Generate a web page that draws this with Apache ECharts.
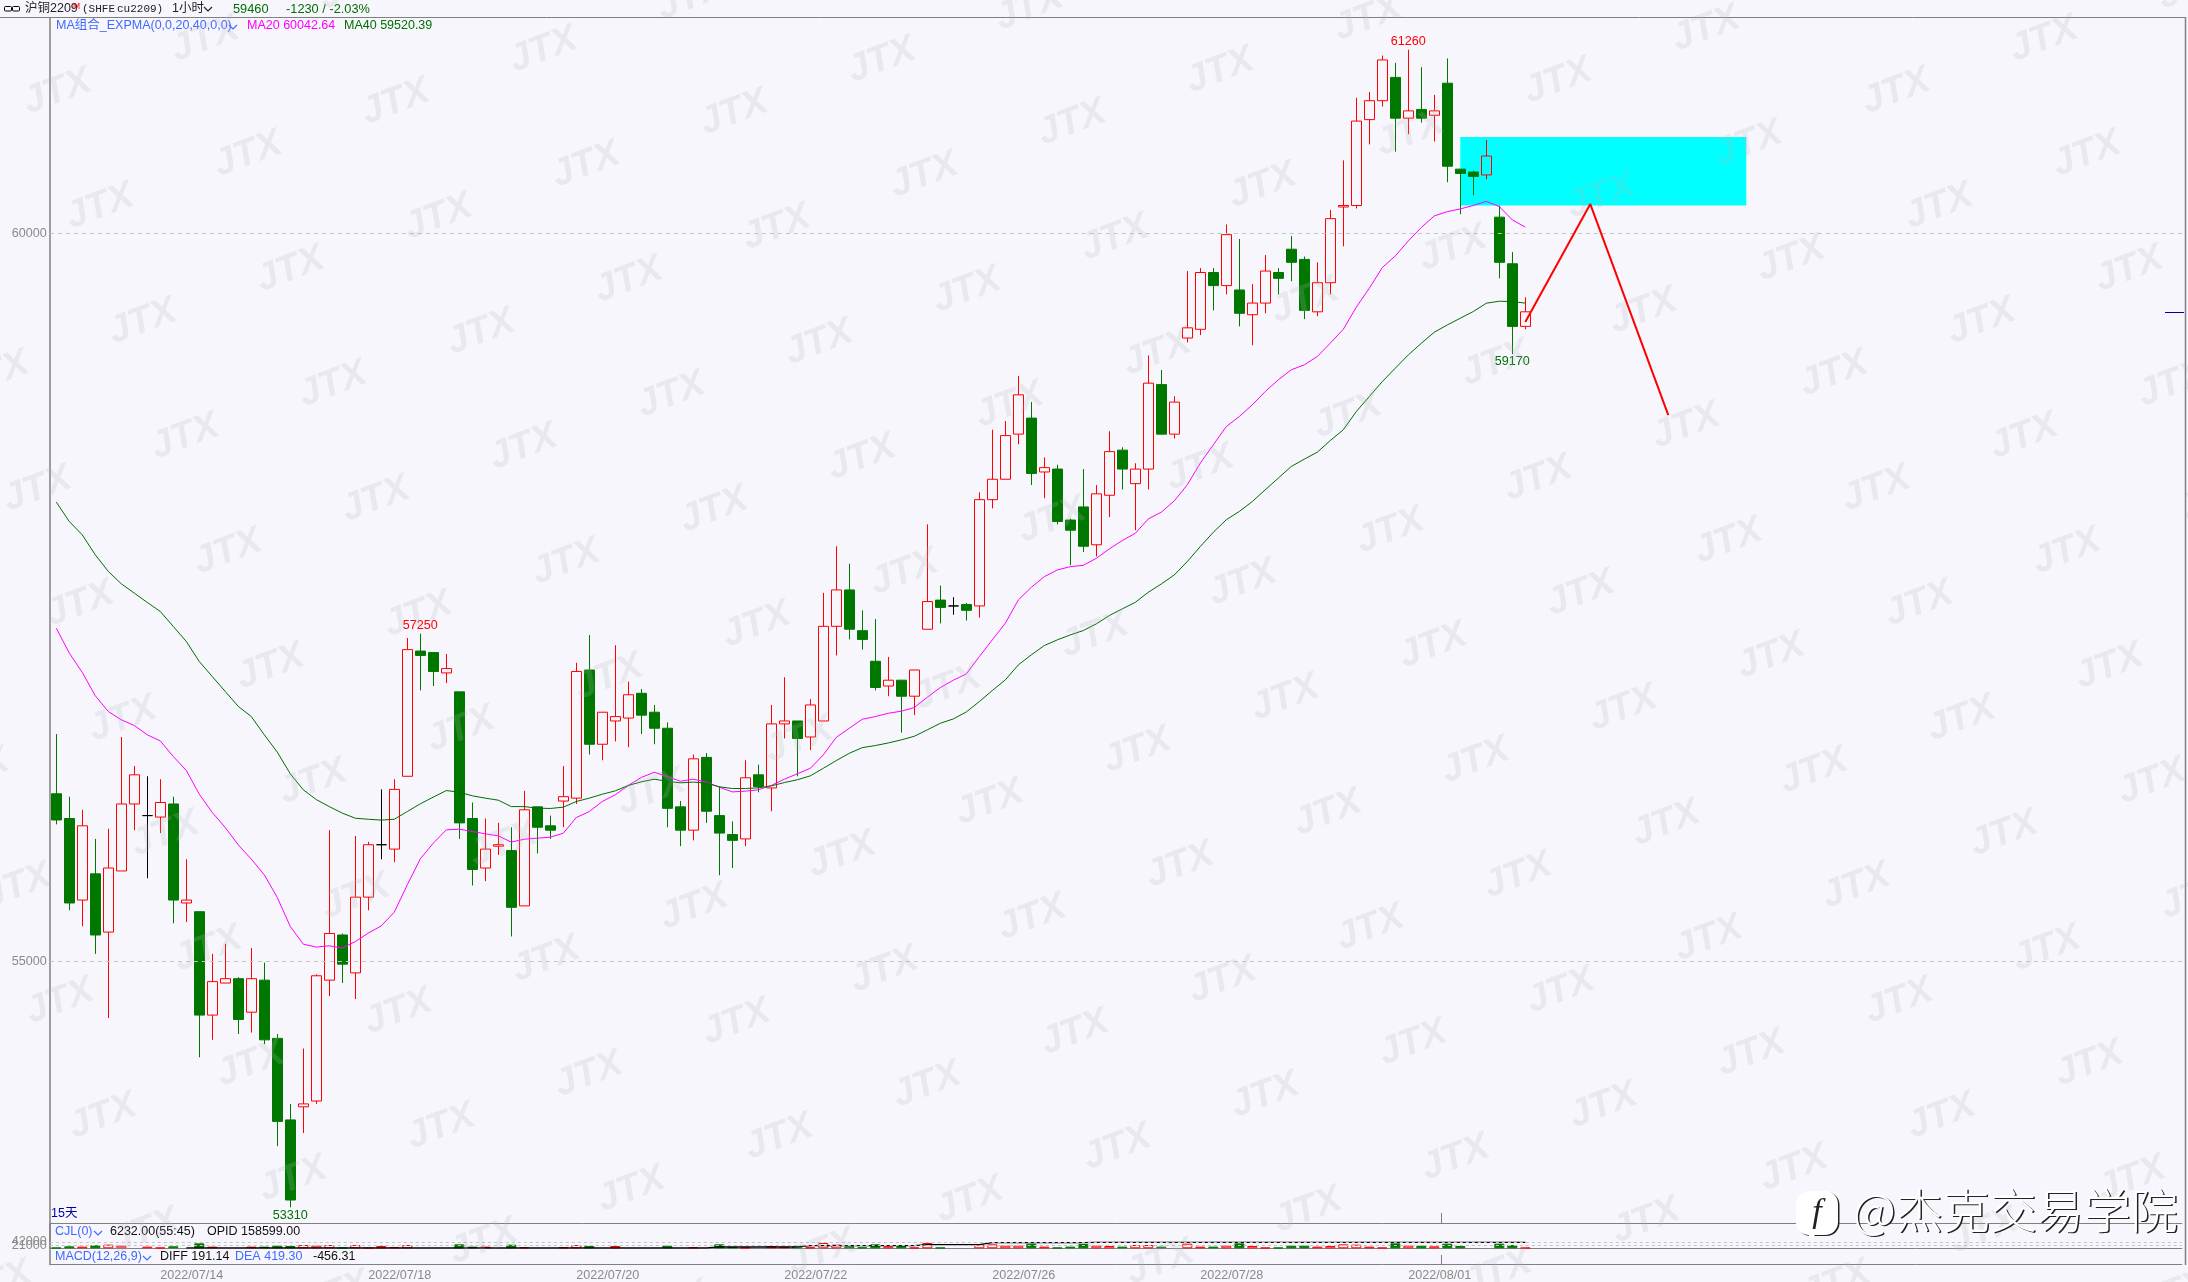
<!DOCTYPE html>
<html><head><meta charset="utf-8">
<style>html,body{margin:0;padding:0;background:#f6f6fc}#c{width:2188px;height:1282px}</style>
<script src="https://cdn.jsdelivr.net/npm/echarts@6/dist/echarts.min.js"></script>
</head><body><div id="c"></div>
<script>
const opens=[56150,55980,55420,55600,55200,55620,56080,56000,55990,56080,55400,55340,54630,54850,54880,54650,54870,54470,53910,54000,54040,54870,55180,54920,55440,55800,55770,56270,57130,57120,56980,56850,55980,55640,55790,55760,55380,56060,55930,56100,56120,57000,56490,56650,56670,56840,56710,56600,56060,55900,56400,56000,55870,55840,56280,56190,56630,56650,56540,56650,57300,57550,57270,57060,56890,56930,56820,57280,57480,57440,57450,57440,58170,58310,58620,58730,58360,58380,58030,58120,57860,58200,58510,58280,58380,58960,58620,59280,59340,59730,59640,59610,59440,59520,59730,59890,59820,59460,59660,60180,60190,60780,60910,61070,60790,60850,60810,61030,60440,60420,60400,60110,59790,59360];
const closes=[55970,55400,55930,55180,55640,56080,56280,56000,56090,55420,55420,54630,54860,54880,54600,54880,54460,53900,53360,54020,54900,55190,54980,55440,55800,55800,56180,57140,57100,56990,57010,55950,55630,55770,55800,55370,56040,55920,55900,56130,56990,56490,56710,56680,56830,56690,56600,56050,55900,56390,56030,55880,55830,56260,56200,56630,56650,56530,56760,57300,57550,57280,57210,56880,56930,56820,57000,57470,57430,57440,57410,58170,58310,58610,58890,58350,58390,58020,57960,57850,58210,58500,58380,58380,58970,58620,58840,59350,59730,59640,59990,59450,59520,59740,59690,59800,59470,59660,60100,60190,60770,60910,61190,60790,60840,60790,60840,60460,60410,60390,60530,59800,59360,59460];
const lows=[55940,55350,55240,55050,54610,55620,55900,55570,55880,55260,55270,54340,54460,54850,54500,54510,54430,53730,53310,53820,54020,54760,54850,54740,55350,55700,55680,56270,56860,56890,56910,55840,55520,55550,55730,55170,55380,55740,55840,55920,56080,56420,56380,56510,56470,56560,56490,55920,55790,55830,55950,55590,55640,55790,56160,56030,56530,56270,56450,56650,57100,57210,57140,56860,56820,56570,56690,57280,57320,57380,57340,57360,58110,58310,58550,58270,58180,58000,57720,57810,57780,58050,58240,57960,58240,58620,58590,59250,59300,59470,59580,59360,59230,59450,59580,59670,59410,59430,59580,59910,60170,60610,60870,60560,60680,60760,60630,60350,60130,60260,60370,59690,59170,59340];
const highs=[56560,56130,56040,55840,55910,56540,56340,56270,56250,56130,55700,55340,55050,55120,54890,55090,54990,54500,54020,54400,54910,55900,55190,55860,55820,56180,56250,57220,57250,57120,57110,56850,56090,55980,55950,55920,56170,56060,56000,56340,57050,57240,56710,57170,56920,56870,56760,56640,56100,56420,56430,56200,55960,56380,56350,56760,56950,56650,56800,57530,57850,57730,57410,57350,57090,56930,57000,58000,57580,57500,57460,58220,58650,58710,59020,58840,58460,58410,58040,58380,58270,58640,58530,58420,59160,59060,58880,59740,59760,59760,60060,59960,59650,59850,59760,59980,59840,59800,60160,60500,60930,60970,61220,61170,61260,61140,60950,61200,60440,60430,60640,60190,59870,59560];
const ma20=[57287,57116,56983,56823,56715,56658,56619,56555,56513,56406,56310,56147,56021,55918,55799,55701,55593,55438,55238,55117,55097,55106,55090,55135,55193,55243,55337,55525,55703,55811,55902,55907,55891,55875,55861,55818,55838,55845,55852,55879,55987,56028,56097,56143,56207,56262,56298,56268,56236,56250,56230,56195,56163,56168,56177,56207,56250,56287,56325,56417,56538,56600,56662,56680,56703,56717,56742,56813,56879,56930,56973,57092,57207,57321,57481,57568,57641,57687,57710,57719,57767,57832,57889,57939,58038,58084,58162,58272,58421,58547,58672,58741,58821,58913,58993,59062,59096,59153,59245,59340,59492,59622,59764,59844,59947,60039,60119,60148,60167,60190,60219,60183,60091,60042];
const ma40=[58153,58020,57928,57791,57677,57592,57528,57464,57402,57299,57196,57058,56955,56852,56750,56680,56555,56436,56287,56177,56110,56062,56017,55982,55975,55969,55975,56028,56081,56127,56172,56161,56136,56120,56106,56062,56062,56051,56049,56058,56097,56120,56147,56170,56207,56232,56250,56236,56225,56230,56223,56198,56186,56186,56191,56204,56227,56246,56273,56325,56378,56428,56467,56481,56499,56520,56545,56589,56634,56664,56712,56783,56859,56932,57035,57104,57168,57207,57241,57271,57317,57374,57420,57465,57534,57591,57653,57745,57848,57946,58032,58089,58157,58238,58318,58398,58448,58496,58576,58650,58775,58878,58981,59073,59164,59244,59320,59370,59416,59462,59519,59533,59530,59520];
const volumes=[4400,13200,11000,19800,24200,17600,0,11000,4400,13200,0,33000,11000,0,0,11000,11000,17600,15400,22000,17600,22000,2200,22000,2200,15400,8800,22000,0,0,0,26400,11000,11000,0,24200,6600,0,0,6600,22000,15400,0,15400,0,0,0,17600,0,6600,0,26400,8800,4400,0,15400,11000,15400,6600,35200,24200,13200,6600,26400,13200,15400,4400,35200,4400,0,0,26400,26400,17600,17600,30800,11000,4400,11000,28600,17600,15400,11000,22000,22000,11000,0,30800,11000,11000,17600,33000,15400,4400,4400,17600,17600,11000,15400,26400,24200,11000,4400,33000,17600,17600,13200,30800,15400,0,0,30800,22000,4400];
const openInterest=[null,null,null,null,null,null,null,null,null,null,8800,8800,8800,8800,8800,8800,8800,8800,8800,8800,8800,8800,8800,8800,8800,8800,8800,8800,8800,8800,8800,8800,8800,8800,8800,8800,8800,8800,8800,8800,8800,8800,8800,8800,8800,8800,8800,8800,8800,8800,8800,35000,35000,35000,35000,35000,35000,35000,70000,70000,70000,70000,70000,70000,70000,70000,70000,97000,97000,97000,97000,97000,150000,150000,150000,150000,150000,150000,150000,150000,158600,158600,158600,158600,158600,158600,158600,158600,158600,158600,158600,158600,158600,158600,158600,158600,158600,158600,158600,158600,158600,158600,158600,158600,158600,158600,158600,158600,158600,158600,158600,158600,158600,158600];
const dateTicks=[8,24,40,56,72,88,104];
const dateLabels=['2022/07/14','2022/07/18','2022/07/20','2022/07/22','2022/07/26','2022/07/28','2022/08/01'];
const slotCount=164;
const trendIdx=[113,118,124];
const trendVal=[59390,60200,58750];
const zoneIdx=[108,130];
const zoneVal=[60190,60660];
const priceTicks=[55000,60000];
const volTicks=[21000,42000];
const extremes=[[104,61260,'top','#ff0000'],[28,57250,'top','#ff0000'],[112,59170,'bottom','#007000'],[18,53310,'bottom','#007000']];

const RED='#ff0000',GREEN='#007800',GRAY='#808080',LBL='#8a8a8a',BLUE='#4169ff';
const FONT='"Liberation Sans","Noto Sans CJK SC",sans-serif';
const categories=Array.from({length:slotCount},(_,i)=>{const k=dateTicks.indexOf(i);return k>=0?dateLabels[k]:''});
const candle=opens.map((o,i)=>[o,closes[i],lows[i],highs[i]]);
const volData=volumes.map((v,i)=>{
  if(!v)return null;
  const up=closes[i]>=opens[i];
  return {value:v,itemStyle:up?{color:'rgba(0,0,0,0)',borderColor:RED,borderWidth:1}:{color:GREEN,borderColor:GREEN,borderWidth:1}};
});
const T=(text,x,y,fill,size,extra)=>({type:'text',z:50,silent:true,style:Object.assign({text,x,y,fill,font:(size||12.5)+'px '+FONT,textVerticalAlign:'middle'},extra||{})});
const chev=(x,y,c)=>({type:'polyline',z:50,silent:true,shape:{points:[[x,y-2],[x+4,y+2],[x+8,y-2]]},style:{stroke:c,fill:null,lineWidth:1.2}});
const L=(x1,y1,x2,y2,c,w)=>({type:'line',z:40,silent:true,shape:{x1,y1,x2,y2},style:{stroke:c||GRAY,lineWidth:w||1}});
const gfx=[];
for(let m=-8;m<14;m++)for(let n=-8;n<14;n++){
  const x=80+190.4*m+147.8*n,y=604+62.7*m-52.3*n;
  if(x<-40||x>2230||y<-30||y>1310)continue;
  gfx.push({type:'text',z:100,silent:true,x,y,rotation:0.36,style:{text:'JTX',x:0,y:0,align:'center',verticalAlign:'middle',fill:'rgba(178,178,190,0.2)',font:'italic bold 38px "Liberation Sans"'}});
}
gfx.push(
 L(0,17.5,2186,17.5),L(2185.5,17,2185.5,1265,GRAY,1.5),
 L(1441.5,1213,1441.5,1223),L(1441.5,1255,1441.5,1264),
 L(2165,312.5,2184,312.5,'#0000a0',1),
 {type:'rect',z:50,silent:true,shape:{x:4.5,y:6.5,width:7,height:4.5,r:1},style:{fill:null,stroke:'#000',lineWidth:1}},
 {type:'rect',z:50,silent:true,shape:{x:12.5,y:6.5,width:7,height:4.5,r:1},style:{fill:null,stroke:'#000',lineWidth:1}},
 T('沪铜2209',25,9,'#222',12.5),T('M',73,7,RED,8.5),
 {type:'text',z:50,silent:true,style:{text:'(SHFE',x:82,y:9,fill:'#222',font:'11px "Liberation Mono"',textVerticalAlign:'middle'}},
 {type:'text',z:50,silent:true,style:{text:'cu2209)',x:117,y:9,fill:'#222',font:'11px "Liberation Mono"',textVerticalAlign:'middle'}},
 T('1小时',172,9,'#222',12.5),chev(204,9,'#222'),
 T('59460',233,9,'#007000',12.8),T('-1230 / -2.03%',286,9,'#007000',12.8),
 T('MA组合_EXPMA(0,0,20,40,0,0)',56,26,BLUE,12.5),chev(229,27,BLUE),
 T('MA20 60042.64',247,26,'#ff00ff',12.5),T('MA40 59520.39',344,26,'#007000',12.5),
 T('15天',51,1214,'#0000a0',12.5),
 T('CJL(0)',55,1232,BLUE,12.5),chev(94,1233,BLUE),T('6232.00(55:45)',110,1232,'#111',12.5),T('OPID 158599.00',207,1232,'#111',12.5),
 T('MACD(12,26,9)',55,1257,BLUE,12.5),chev(143,1258,BLUE),T('DIFF 191.14',160,1257,'#111',12.5),T('DEA 419.30',235,1257,BLUE,12.5),T('-456.31',313,1257,'#111',12.5),
 {type:'rect',z:109,silent:true,shape:{x:1797.5,y:1192,width:42,height:44,r:13},style:{fill:'#222'}},
 {type:'rect',z:110,silent:true,shape:{x:1796,y:1191,width:42,height:44,r:13},style:{fill:'#fff'}},
 {type:'polygon',z:110,silent:true,shape:{points:[[1808,1232],[1818,1232],[1810,1240]]},style:{fill:'#fff'}},
 {type:'text',z:111,silent:true,style:{text:'f',x:1817,y:1213,align:'center',verticalAlign:'middle',fill:'#222',font:'italic 34px "Liberation Serif"'}},
 {type:'text',z:109,silent:true,style:{text:'@杰克交易学院',x:1854.5,y:1211.5,verticalAlign:'middle',fill:'#222',font:'300 47px "Noto Sans CJK SC"'}},
 {type:'text',z:110,silent:true,style:{text:'@杰克交易学院',x:1853,y:1210,verticalAlign:'middle',fill:'#fff',font:'300 47px "Noto Sans CJK SC"'}}
);

const volLabelAxis=(tick)=>({type:'value',gridIndex:1,position:'left',min:0,max:160000,splitLine:{show:false},axisTick:{show:false},
  axisLine:{show:true,lineStyle:{color:GRAY,width:1.5}},
  axisLabel:{customValues:[tick],showMinLabel:true,showMaxLabel:true,formatter:v=>String(v),hideOverlap:false,color:LBL,fontSize:12.6,fontFamily:FONT,margin:3}});
const option={
 animation:false,backgroundColor:'#f6f6fc',
 grid:[
  {left:49.8,width:2132,top:17.7,height:1205.6},
  {left:49.8,width:2132,top:1224.3,height:24},
  {left:49.8,width:2132,top:1248.3,height:16}
 ],
 xAxis:[0,1,2].map(g=>({
  type:'category',gridIndex:g,data:categories,boundaryGap:true,
  axisTick:{show:false},splitLine:{show:false},
  axisLine:{show:true,onZero:false,lineStyle:{color:GRAY,width:1}},
  axisLabel:g===2?{show:true,interval:(i,v)=>v!=='',align:'left',color:LBL,fontSize:12.6,fontFamily:FONT,margin:5}:{show:false}
 })),
 yAxis:[
  {type:'value',gridIndex:0,min:53200,max:61480,splitLine:{show:false},axisTick:{show:false},
   axisLine:{show:true,lineStyle:{color:GRAY,width:1.5}},
   axisLabel:{customValues:priceTicks,showMinLabel:true,showMaxLabel:true,formatter:v=>String(v),color:LBL,fontSize:12.6,fontFamily:FONT,margin:3}},
  volLabelAxis(volTicks[0]),
  {type:'value',gridIndex:1,min:0,max:634000,show:false},
  {type:'value',gridIndex:2,min:0,max:1,splitLine:{show:false},axisTick:{show:false},axisLabel:{show:false},
   axisLine:{show:true,lineStyle:{color:GRAY,width:1.5}}},
  volLabelAxis(volTicks[1])
 ],
 series:[
  {type:'line',xAxisIndex:0,yAxisIndex:0,z:1,data:[],symbol:'none',silent:true,
   markArea:{silent:true,itemStyle:{color:'#00ffff',opacity:1},data:[[{xAxis:zoneIdx[0],yAxis:zoneVal[1]},{xAxis:zoneIdx[1],yAxis:zoneVal[0]}]]},
   markLine:{silent:true,symbol:'none',label:{show:false},lineStyle:{color:'#c4c4c4',type:[4,4],width:1},data:priceTicks.map(v=>({yAxis:v}))}},
  {name:'candles',type:'candlestick',xAxisIndex:0,yAxisIndex:0,z:3,barWidth:10,data:candle,silent:true,
   itemStyle:{color:'rgba(0,0,0,0)',color0:GREEN,borderColor:RED,borderColor0:GREEN,borderColorDoji:'#000',borderWidth:1},
   markPoint:{silent:true,symbol:'circle',symbolSize:1,itemStyle:{color:'rgba(0,0,0,0)'},
    data:extremes.map(e=>({coord:[e[0],e[1]],value:e[1],label:{show:true,position:e[2],distance:1,color:e[3],fontSize:12.6,fontFamily:FONT,formatter:String(e[1])}}))}},
  {name:'MA20',type:'line',xAxisIndex:0,yAxisIndex:0,z:4,data:ma20,symbol:'none',silent:true,lineStyle:{color:'#ff00ff',width:1}},
  {name:'MA40',type:'line',xAxisIndex:0,yAxisIndex:0,z:4,data:ma40,symbol:'none',silent:true,lineStyle:{color:'#006f00',width:1}},
  {name:'trend',type:'line',xAxisIndex:0,yAxisIndex:0,z:5,data:trendIdx.map((x,i)=>[x,trendVal[i]]),symbol:'none',silent:true,lineStyle:{color:RED,width:2}},
  {name:'volume',type:'bar',xAxisIndex:1,yAxisIndex:1,z:3,barWidth:10,data:volData,silent:true,
   markLine:{silent:true,symbol:'none',label:{show:false},lineStyle:{color:'#c4c4c4',type:[3,3],width:1},data:volTicks.map(v=>({yAxis:v}))}},
  {name:'OI',type:'line',xAxisIndex:1,yAxisIndex:2,z:4,data:openInterest,symbol:'none',silent:true,lineStyle:{color:'#000',width:1.3}},
  {type:'line',xAxisIndex:2,yAxisIndex:3,data:[],symbol:'none',silent:true},
  {type:'line',xAxisIndex:1,yAxisIndex:4,data:[],symbol:'none',silent:true}
 ],
 graphic:{elements:gfx}
};
echarts.init(document.getElementById('c'),null,{renderer:'canvas'}).setOption(option);
</script></body></html>
